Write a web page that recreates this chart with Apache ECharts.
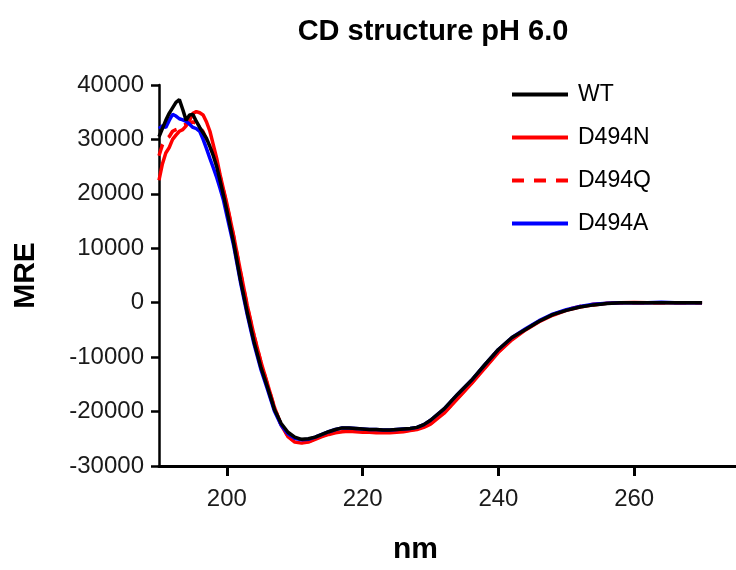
<!DOCTYPE html>
<html>
<head>
    <meta charset="UTF-8" />
    <title>CD structure pH 6.0</title>
    <style>
        * { margin: 0; padding: 0; }
        html, body { width: 736px; height: 570px; background: #fff; }
        .chart { width: 736px; height: 570px; }
    </style>
</head>
<body>
    <div class="chart"></div>
    <script src="https://cdn.jsdelivr.net/npm/echarts@6.0.0/dist/echarts.min.js"></script>
    <script type="text/javascript">
        // wavelength (nm), denser around the 190-200 peak
        var wl = [190, 190.5, 191, 191.5, 192, 192.5, 193, 193.5, 194, 194.5,
            195, 195.5, 196, 196.5, 197, 197.5, 198, 198.5, 199, 199.5,
            200, 201, 202, 203, 204, 205, 206, 207, 208, 209,
            210, 211, 212, 213, 214, 215, 216, 217, 218, 219,
            220, 221, 222, 223, 224, 225, 226, 227, 228, 229, 230,
            232, 234, 236, 238, 240, 242, 244, 246, 248, 250,
            252, 254, 256, 258, 260, 262, 264, 266, 268, 270];

        var wt = [30500, 32000, 33500, 34800, 35800, 36800, 37300, 35500, 33500, 34500,
            34600, 33300, 32200, 31200, 30200, 28700, 27000, 25000, 22400, 19700,
            16900, 11000, 4200, -1800, -7200, -11800, -15600, -19600, -22200, -23800,
            -24700, -25100, -25000, -24700, -24200, -23700, -23300, -23000, -23000, -23100,
            -23200, -23300, -23300, -23400, -23400, -23300, -23200, -23100, -22900, -22400, -21600,
            -19500, -16800, -14300, -11400, -8600, -6400, -4900, -3400, -2200, -1400,
            -800, -400, -150, 0, 0, 0, 0, 0, 0, 0];

        var d494n = [22500, 25500, 27500, 28500, 30000, 30800, 31500, 31800, 32500, 33500,
            34800, 35100, 34900, 34500, 33200, 31500, 29000, 26500, 23500, 20800,
            18200, 12300, 5800, -500, -6000, -10800, -15000, -19200, -22500, -24600,
            -25600, -25800, -25600, -25100, -24600, -24200, -23900, -23700, -23600, -23700,
            -23800, -23800, -23900, -23900, -23900, -23800, -23700, -23500, -23300, -22900, -22300,
            -20300, -17600, -14900, -12000, -9100, -6800, -5000, -3500, -2300, -1400,
            -800, -400, -100, 0, 50, 0, 0, 0, 0, 0];

        var d494q = [27000, 29000, 30000, 30500, 31500, 31800, 32000, 32600, 32800, 33000,
            33200, 33000, 32300, 31400, 30000, 28600, 27400, 25800, 23200, 20600,
            18000, 12100, 5600, -700, -6100, -10900, -15100, -19300, -22500, -24500,
            -25500, -25700, -25500, -25000, -24500, -24100, -23800, -23600, -23500, -23600,
            -23700, -23700, -23800, -23800, -23800, -23700, -23600, -23400, -23200, -22800, -22200,
            -20200, -17500, -14800, -11900, -9000, -6700, -4900, -3400, -2200, -1300,
            -700, -300, -100, 0, 0, 0, 0, 0, 0, 0];

        var d494a = [32000, 32500, 32200, 33500, 34600, 34300, 33800, 33600, 33300, 32800,
            32200, 32000, 31500, 30000, 28300, 26500, 24800, 23000, 21000, 18800,
            16000, 10500, 3800, -2200, -7600, -12200, -16000, -19900, -22500, -24100,
            -24900, -25200, -25100, -24700, -24200, -23700, -23300, -23000, -23000, -23100,
            -23200, -23300, -23300, -23400, -23400, -23300, -23200, -23100, -22900, -22400, -21600,
            -19500, -16800, -14300, -11400, -8600, -6400, -4800, -3300, -2100, -1300,
            -700, -300, -100, 0, 0, 0, 100, 0, 0, 0];

        var xTicks = [200, 220, 240, 260];

        function pairs(vals) {
            return wl.map(function (x, i) { return [x, vals[i]]; });
        }

        var font = "'Liberation Sans', Arial, sans-serif";
        var solidIcon = "path://M0 0H56V4H0Z";
        var dashIcon = "path://M0 0H12V4H0ZM22 0H34V4H22ZM44 0H56V4H44Z";
        var myChart = echarts.init(document.querySelector(".chart"));

        var option = {
            animation: false,
            title: {
                text: "CD structure pH 6.0",
                left: 428,
                top: 12,
                textAlign: "center",
                textStyle: { fontFamily: font, fontSize: 29, fontWeight: "bold", color: "#000" },
            },
            legend: {
                data: [
                    { name: "WT", icon: solidIcon },
                    { name: "D494N", icon: solidIcon },
                    { name: "D494Q", icon: dashIcon },
                    { name: "D494A", icon: solidIcon },
                ],
                orient: "vertical",
                left: 507,
                top: 78,
                itemWidth: 56,
                itemHeight: 4,
                itemGap: 20,
                textStyle: { fontFamily: font, fontSize: 23, lineHeight: 23, color: "#000", padding: [0, 0, 0, 5] },
            },
            grid: { left: 159, right: 0, top: 85, bottom: 98, containLabel: false },
            xAxis: {
                type: "value",
                min: 190,
                max: 275,
                name: "nm",
                nameLocation: "middle",
                nameGap: 69,
                nameTextStyle: { fontFamily: font, fontSize: 30, fontWeight: "bold", color: "#000", padding: [0, 64, 0, 0] },
                axisLine: { show: true, onZero: false, lineStyle: { color: "#000", width: 3 } },
                axisTick: { show: true, length: 10, customValues: xTicks, lineStyle: { color: "#000", width: 3 } },
                axisLabel: { customValues: xTicks, fontFamily: font, fontSize: 24, color: "#1a1a1a", margin: 21 },
                splitLine: { show: false },
            },
            yAxis: {
                type: "value",
                min: -30000,
                max: 40000,
                interval: 10000,
                name: "MRE",
                nameLocation: "middle",
                nameGap: 118,
                nameTextStyle: { fontFamily: font, fontSize: 30, fontWeight: "bold", color: "#000" },
                axisLine: { show: true, onZero: false, lineStyle: { color: "#000", width: 2.5 } },
                axisTick: { show: true, length: 8, lineStyle: { color: "#000", width: 2.5 } },
                axisLabel: {
                    fontFamily: font, fontSize: 24, color: "#1a1a1a", margin: 15,
                    formatter: function (v) { return String(v); },
                },
                splitLine: { show: false },
            },
            series: [
                {
                    name: "D494Q",
                    type: "line",
                    data: pairs(d494q),
                    showSymbol: false,
                    symbol: "none",
                    lineStyle: { color: "#ff0000", width: 3.5, type: [12, 9] },
                    itemStyle: { color: "#ff0000" },
                },
                {
                    name: "D494N",
                    type: "line",
                    data: pairs(d494n),
                    showSymbol: false,
                    symbol: "none",
                    lineStyle: { color: "#ff0000", width: 3.5 },
                    itemStyle: { color: "#ff0000" },
                },
                {
                    name: "D494A",
                    type: "line",
                    data: pairs(d494a),
                    showSymbol: false,
                    symbol: "none",
                    lineStyle: { color: "#0000ff", width: 3.5 },
                    itemStyle: { color: "#0000ff" },
                },
                {
                    name: "WT",
                    type: "line",
                    data: pairs(wt),
                    showSymbol: false,
                    symbol: "none",
                    lineStyle: { color: "#000000", width: 3.5 },
                    itemStyle: { color: "#000000" },
                },
            ],
        };
        myChart.setOption(option);
    </script>
</body>
</html>
